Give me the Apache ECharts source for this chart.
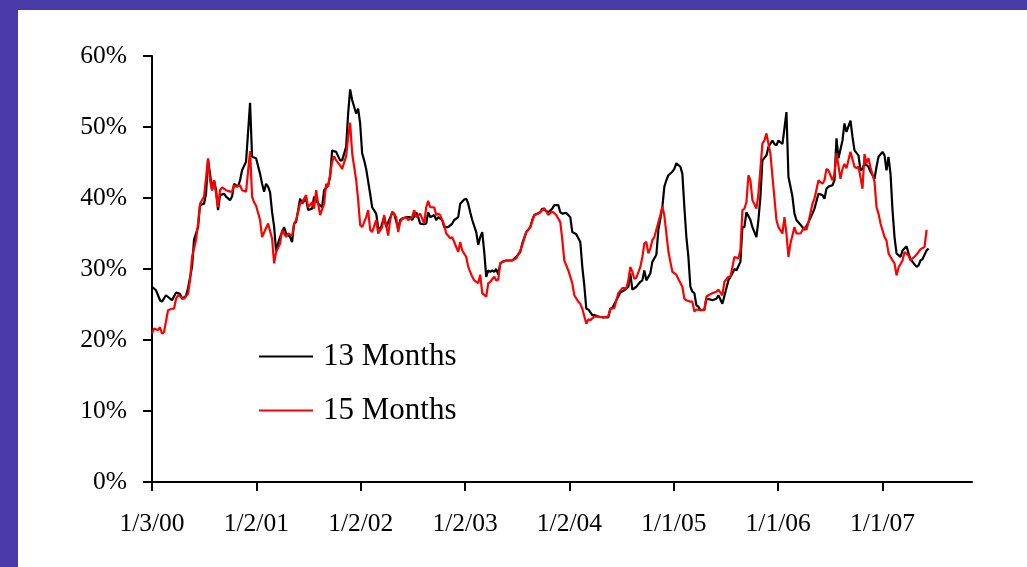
<!DOCTYPE html>
<html>
<head>
<meta charset="utf-8">
<script src="https://cdn.jsdelivr.net/npm/echarts@6/dist/echarts.min.js"></script>
<style>
  html, body { margin: 0; padding: 0; background: #ffffff; }
  #wrap { position: relative; width: 1027px; height: 567px; overflow: hidden; }
  #chart { position: absolute; left: 0; top: 0; width: 1027px; height: 567px; }
  .band { position: absolute; background: #4a3aa8; }
</style>
</head>
<body>
<div id="wrap">
  <div id="chart"></div>
  <div class="band" style="left:0;top:0;width:1027px;height:10px;"></div>
  <div class="band" style="left:0;top:0;width:18px;height:567px;"></div>
</div>
<script>
// Weekly observations: [weeks since 1/3/00, percent]
const months13 = [[0,27.5],[2,27.0],[4,25.6],[5,25.4],[7,26.3],[10,25.6],[12,26.7],[14,26.5],[15,25.8],[17,26.2],[18,27.3],[20,30.3],[21,34.1],[23,35.9],[24,39.0],[26,39.2],[27,40.6],[28,45.4],[29,43.4],[30,41.1],[31,42.5],[32,41.1],[33,38.3],[34,40.4],[36,40.6],[37,40.2],[39,39.7],[40,40.2],[41,42.0],[43,41.6],[44,42.5],[45,43.9],[47,45.1],[49,53.4],[50,45.8],[52,45.6],[54,43.4],[55,42.0],[56,40.9],[57,42.0],[58,41.6],[59,40.8],[60,38.0],[61,36.0],[62,32.5],[63,33.6],[64,34.5],[65,35.2],[66,35.9],[67,35.0],[69,34.5],[70,33.8],[71,36.4],[72,36.6],[74,39.9],[75,39.2],[77,39.9],[78,38.3],[80,38.5],[81,40.2],[83,39.2],[85,38.7],[86,41.1],[88,41.8],[89,43.0],[90,46.7],[92,46.5],[94,45.3],[95,45.3],[97,47.2],[98,51.9],[99,55.3],[100,53.8],[102,51.9],[103,52.6],[104,50.5],[105,46.3],[106,45.3],[107,44.1],[109,40.6],[110,38.7],[112,37.8],[113,35.9],[114,35.5],[116,37.3],[117,35.9],[120,37.9],[121,37.8],[123,35.7],[124,36.9],[125,37.1],[127,37.3],[129,37.3],[130,36.9],[132,38.0],[133,37.3],[134,36.4],[136,36.3],[137,36.4],[138,38.0],[139,37.3],[141,37.6],[142,36.9],[143,37.3],[145,36.9],[146,35.9],[148,35.9],[150,36.4],[151,36.9],[152,37.1],[153,37.3],[154,39.2],[156,39.8],[157,39.9],[158,39.2],[159,38.0],[160,36.9],[162,35.2],[163,33.4],[164,34.5],[165,35.2],[166,32.4],[167,28.9],[168,29.8],[169,29.6],[170,29.8],[171,29.6],[172,30.0],[173,29.2],[174,30.8],[175,31.0],[177,31.2],[179,31.2],[180,31.2],[182,31.7],[184,32.4],[185,33.6],[187,35.2],[189,35.9],[190,36.9],[191,37.6],[194,38.0],[195,38.5],[198,38.0],[200,38.5],[201,39.0],[203,39.0],[204,38.0],[205,37.8],[207,37.9],[209,37.3],[210,35.2],[212,34.9],[214,33.8],[215,30.3],[216,27.7],[217,24.4],[218,24.3],[220,23.5],[221,23.5],[223,23.3],[225,23.2],[228,23.2],[229,24.4],[230,24.5],[232,25.6],[234,26.7],[236,27.0],[238,27.5],[239,29.4],[240,27.1],[242,27.5],[244,28.2],[245,28.4],[246,29.8],[247,28.4],[249,29.4],[250,31.0],[252,32.0],[253,35.5],[255,38.7],[256,41.6],[257,42.5],[258,43.2],[260,43.7],[261,44.1],[262,44.9],[264,44.4],[265,43.4],[266,38.7],[267,34.5],[268,31.7],[269,27.5],[270,26.8],[271,26.6],[272,24.9],[273,24.7],[274,24.2],[276,24.3],[277,25.8],[279,25.7],[280,25.6],[282,25.8],[283,26.3],[285,25.1],[287,27.3],[288,28.4],[290,29.4],[291,30.0],[292,29.8],[294,31.0],[295,35.9],[296,35.9],[297,38.0],[299,36.9],[300,35.9],[302,34.5],[303,36.9],[304,40.2],[305,45.3],[307,46.0],[308,47.2],[310,48.1],[311,47.6],[312,47.4],[313,48.1],[315,47.6],[316,49.8],[317,52.1],[318,43.0],[320,40.2],[321,37.8],[322,36.9],[325,35.9],[326,35.5],[328,36.6],[330,37.8],[331,38.5],[333,40.6],[335,40.4],[336,39.9],[337,41.3],[338,41.6],[340,41.8],[341,42.5],[342,48.4],[343,45.6],[345,48.1],[346,50.5],[347,49.3],[349,50.9],[350,48.6],[351,46.7],[353,46.0],[354,43.9],[355,44.1],[356,44.9],[358,44.4],[359,43.7],[361,42.7],[362,44.4],[363,45.8],[365,46.5],[366,46.0],[367,43.9],[368,45.8],[369,43.4],[370,38.3],[371,34.5],[372,32.2],[374,31.7],[375,32.6],[377,33.2],[378,32.2],[379,31.4],[380,31.0],[382,30.3],[383,30.5],[384,31.2],[385,31.4],[387,32.6],[388,32.9]];

const months15 = [[0,20.9],[1,21.6],[3,21.4],[4,21.8],[5,20.9],[6,21.1],[8,24.2],[10,24.4],[11,24.4],[12,25.8],[13,26.3],[15,26.0],[16,25.8],[18,26.5],[19,28.4],[20,31.7],[22,34.1],[23,36.4],[24,39.2],[26,40.2],[28,45.6],[29,42.5],[30,41.1],[31,42.5],[33,38.7],[34,41.1],[35,41.5],[37,41.1],[39,40.9],[40,40.9],[41,41.8],[42,41.6],[44,41.8],[45,41.1],[47,40.9],[49,46.6],[50,40.2],[51,39.4],[52,38.9],[54,36.9],[55,34.5],[58,36.4],[59,35.3],[60,34.3],[61,30.8],[62,32.4],[63,33.0],[64,33.6],[65,35.5],[67,34.5],[68,35.0],[70,34.7],[71,36.4],[72,36.9],[74,39.2],[75,39.4],[77,40.4],[78,38.7],[80,39.4],[81,38.5],[82,41.1],[83,39.2],[84,37.6],[86,39.2],[87,42.0],[88,41.6],[90,45.1],[91,45.9],[92,45.3],[94,44.6],[95,44.1],[97,45.9],[98,48.6],[99,50.6],[100,46.3],[102,42.5],[103,39.7],[104,36.2],[105,35.9],[107,37.3],[108,38.3],[109,35.5],[110,35.2],[112,36.9],[113,35.0],[115,35.9],[116,37.6],[118,34.7],[119,36.9],[120,38.1],[122,37.3],[123,35.2],[124,36.6],[125,37.1],[127,37.3],[128,36.9],[130,37.3],[131,38.3],[132,37.3],[134,37.8],[136,36.4],[137,38.7],[138,39.6],[139,38.7],[141,38.7],[142,37.6],[143,37.8],[144,37.6],[146,36.2],[147,35.0],[148,34.7],[149,34.3],[150,34.5],[152,33.1],[153,32.4],[154,33.8],[155,32.6],[157,31.7],[158,30.3],[160,28.9],[161,28.4],[163,28.0],[164,29.2],[165,26.6],[167,26.1],[168,28.0],[169,28.2],[171,28.9],[172,28.4],[173,28.5],[174,30.8],[175,31.0],[177,31.2],[179,31.2],[180,31.2],[182,31.5],[184,32.6],[185,33.4],[187,35.2],[189,35.9],[191,37.6],[193,37.8],[195,38.3],[196,38.6],[198,37.6],[200,38.1],[202,37.6],[204,36.6],[205,34.1],[206,31.2],[208,29.8],[210,28.0],[211,26.3],[213,25.4],[214,25.1],[215,24.4],[217,22.3],[218,22.9],[219,22.8],[221,23.3],[222,23.3],[225,23.2],[228,23.3],[229,24.4],[231,24.5],[232,25.6],[233,26.6],[235,27.3],[237,27.3],[238,28.4],[239,30.3],[240,29.6],[241,28.6],[242,28.8],[244,30.3],[245,31.7],[246,33.6],[247,33.8],[248,32.2],[249,32.9],[250,34.1],[251,34.5],[254,37.6],[255,38.8],[256,37.5],[257,35.0],[258,32.5],[259,31.0],[260,29.6],[262,29.2],[263,28.6],[265,27.5],[266,25.8],[267,25.6],[269,25.4],[270,25.4],[271,24.0],[272,24.3],[274,24.2],[276,24.2],[277,26.1],[278,26.3],[280,26.6],[282,26.8],[283,27.1],[285,26.3],[286,28.2],[288,28.9],[289,28.9],[290,30.3],[291,31.7],[293,31.5],[294,32.7],[295,38.3],[296,38.5],[297,39.4],[298,43.2],[299,42.5],[300,39.7],[302,38.5],[303,40.6],[305,47.7],[306,48.1],[307,49.1],[309,46.2],[310,43.0],[311,40.0],[312,36.9],[313,35.9],[315,35.0],[316,37.3],[317,35.0],[318,31.7],[319,33.6],[321,35.9],[322,35.0],[324,35.0],[326,35.9],[327,35.5],[328,36.6],[330,39.2],[331,39.9],[333,42.5],[335,42.0],[336,42.5],[337,44.1],[338,43.9],[340,42.5],[341,43.4],[342,46.3],[344,42.7],[345,44.1],[346,44.8],[347,44.2],[349,46.5],[351,44.4],[352,44.2],[353,44.4],[354,42.9],[355,41.3],[356,46.2],[357,44.9],[358,45.6],[359,44.3],[361,42.3],[362,38.7],[363,37.8],[364,36.4],[366,34.5],[367,34.0],[368,32.2],[370,31.2],[371,30.8],[372,29.1],[373,30.2],[375,31.2],[376,32.4],[378,31.9],[379,31.2],[380,31.5],[381,31.7],[383,32.4],[384,32.8],[386,33.1],[387,35.5]];

// Date tick labels (M/D/YY) along the time axis
const tickDates = ['1/3/00', '1/2/01', '1/2/02', '1/2/03', '1/2/04', '1/1/05', '1/1/06', '1/1/07'];
const seriesNames = ['13 Months', '15 Months'];
const yTicks = [0, 10, 20, 30, 40, 50, 60];

// Convert a M/D/YY label into days since the first date
function toDay(label) {
  const [m, d, y] = label.split('/').map(Number);
  return Date.UTC(2000 + y, m - 1, d) / 86400000;
}
const day0 = toDay(tickDates[0]);
const tickDays = tickDates.map(t => toDay(t) - day0);
const labelByDay = {};
tickDays.forEach((d, i) => { labelByDay[d] = tickDates[i]; });

const toDays = arr => arr.map(([w, v]) => [w * 7, v]);

const font = 'Liberation Serif, Times New Roman, serif';
const chart = echarts.init(document.getElementById('chart'), null, { renderer: 'canvas' });
chart.setOption({
  animation: false,
  backgroundColor: '#ffffff',
  grid: { left: 152, right: 55, top: 56, bottom: 85, containLabel: false },
  legend: {
    orient: 'vertical',
    left: 259,
    top: 341,
    padding: 0,
    itemWidth: 54,
    itemHeight: 2,
    itemGap: 23,
    icon: 'rect',
    textStyle: { fontFamily: font, fontSize: 31, color: '#000', lineHeight: 30, padding: [0, 0, 0, 5] },
    data: seriesNames
  },
  xAxis: {
    type: 'value',
    min: 0,
    max: 2868,
    axisLine: { lineStyle: { color: '#000', width: 2 } },
    axisTick: { show: true, length: 9, lineStyle: { color: '#000', width: 2 }, customValues: tickDays },
    axisLabel: {
      customValues: tickDays,
      formatter: v => labelByDay[v] || '',
      fontFamily: font, fontSize: 25.5, color: '#000', margin: 29
    },
    splitLine: { show: false }
  },
  yAxis: {
    type: 'value',
    min: yTicks[0],
    max: yTicks[yTicks.length - 1],
    interval: 10,
    axisLine: { show: true, lineStyle: { color: '#000', width: 2 } },
    axisTick: { show: true, length: 9, lineStyle: { color: '#000', width: 2 } },
    axisLabel: { formatter: '{value}%', fontFamily: font, fontSize: 25.5, color: '#000', margin: 25 },
    splitLine: { show: false }
  },
  series: [
    {
      name: seriesNames[0], type: 'line', data: toDays(months13), showSymbol: false,
      color: '#000000', lineStyle: { color: '#000000', width: 2.2 }
    },
    {
      name: seriesNames[1], type: 'line', data: toDays(months15), showSymbol: false,
      color: '#ff0000', lineStyle: { color: '#ff0000', width: 2.2 }
    }
  ]
});
</script>
</body>
</html>
